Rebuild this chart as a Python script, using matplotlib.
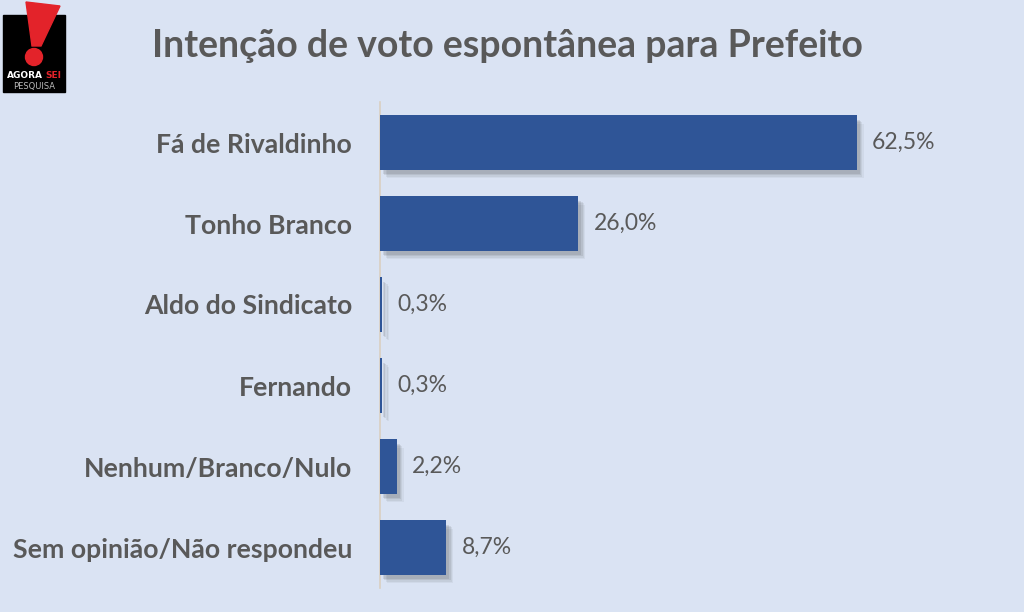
import matplotlib
matplotlib.use("Agg")
import matplotlib.pyplot as plt
import matplotlib.patches as mpatches
import matplotlib.patheffects as pe

candidatos = ["Fá de Rivaldinho", "Tonho Branco", "Aldo do Sindicato", "Fernando",
              "Nenhum/Branco/Nulo", "Sem opinião/Não respondeu"]
valores = [62.5, 26.0, 0.3, 0.3, 2.2, 8.7]
rotulos = ["62,5%", "26,0%", "0,3%", "0,3%", "2,2%", "8,7%"]

BG = "#DAE3F3"
BAR = "#2F5597"
TXT = "#595959"

plt.rcParams['font.family'] = ['Lato', 'DejaVu Sans']

fig = plt.figure(figsize=(10.24, 6.12), dpi=100, facecolor=BG)
ax = fig.add_axes([380/1024, 1-588/612, 640/1024, 486/612], facecolor=BG)

y = list(range(len(candidatos)))
bars = ax.barh(y, valores, height=0.67, color=BAR, zorder=3)
# soft drop shadow: a few offset layers
sombra = [pe.SimplePatchShadow(offset=(o, -o - 1), shadow_rgbFace="#404040", alpha=a)
          for o, a in [(5, 0.06), (4, 0.08), (3, 0.10), (2, 0.12)]]
for b in bars:
    b.set_path_effects(sombra + [pe.Normal()])

for yi, v, r in zip(y, valores, rotulos):
    ax.text(v + 2.0, yi, r, va="center", ha="left", fontsize=16.5, color=TXT)

ax.set_xlim(0, 640/7.63)
ax.set_ylim(len(candidatos) - 0.5, -0.5)
ax.set_yticks(y)
ax.set_yticklabels(candidatos, fontsize=19.2, fontweight="bold", color=TXT)
ax.tick_params(axis="y", length=0, pad=20)
ax.set_xticks([])
for s in ["top", "right", "bottom"]:
    ax.spines[s].set_visible(False)
ax.spines["left"].set_color("#D9CFC1")
ax.spines["left"].set_linewidth(1.2)

fig.text(507/1024, 1-46/612, "Intenção de voto espontânea para Prefeito", ha="center", va="center",
         fontsize=27, fontweight="bold", color=TXT)

# logo
lg = fig.add_axes([0, 0, 1, 1], facecolor="none")
lg.set_xlim(0, 1024)
lg.set_ylim(612, 0)
lg.axis("off")
lg.add_patch(mpatches.Rectangle((3, 15), 62, 77, color="black"))
lg.add_patch(mpatches.Polygon([(26, 2), (60, 6), (41, 46), (32, 46)], closed=True, color="#E3232A"))
lg.add_patch(mpatches.Circle((34, 57), 8.5, color="#E3232A"))
lg.text(7, 75, "AGORA", color="white", fontsize=6.5, fontweight="bold", va="center", ha="left",
        family=["DejaVu Sans"])
lg.text(45, 75, "SEI", color="#E3232A", fontsize=6.5, fontweight="bold", va="center", ha="left",
        family=["DejaVu Sans"])
lg.text(34, 86, "PESQUISA", color="#BBBBBB", fontsize=6, va="center", ha="center",
        family=["DejaVu Sans"])

fig.savefig("out.png", dpi=100, facecolor=BG)
